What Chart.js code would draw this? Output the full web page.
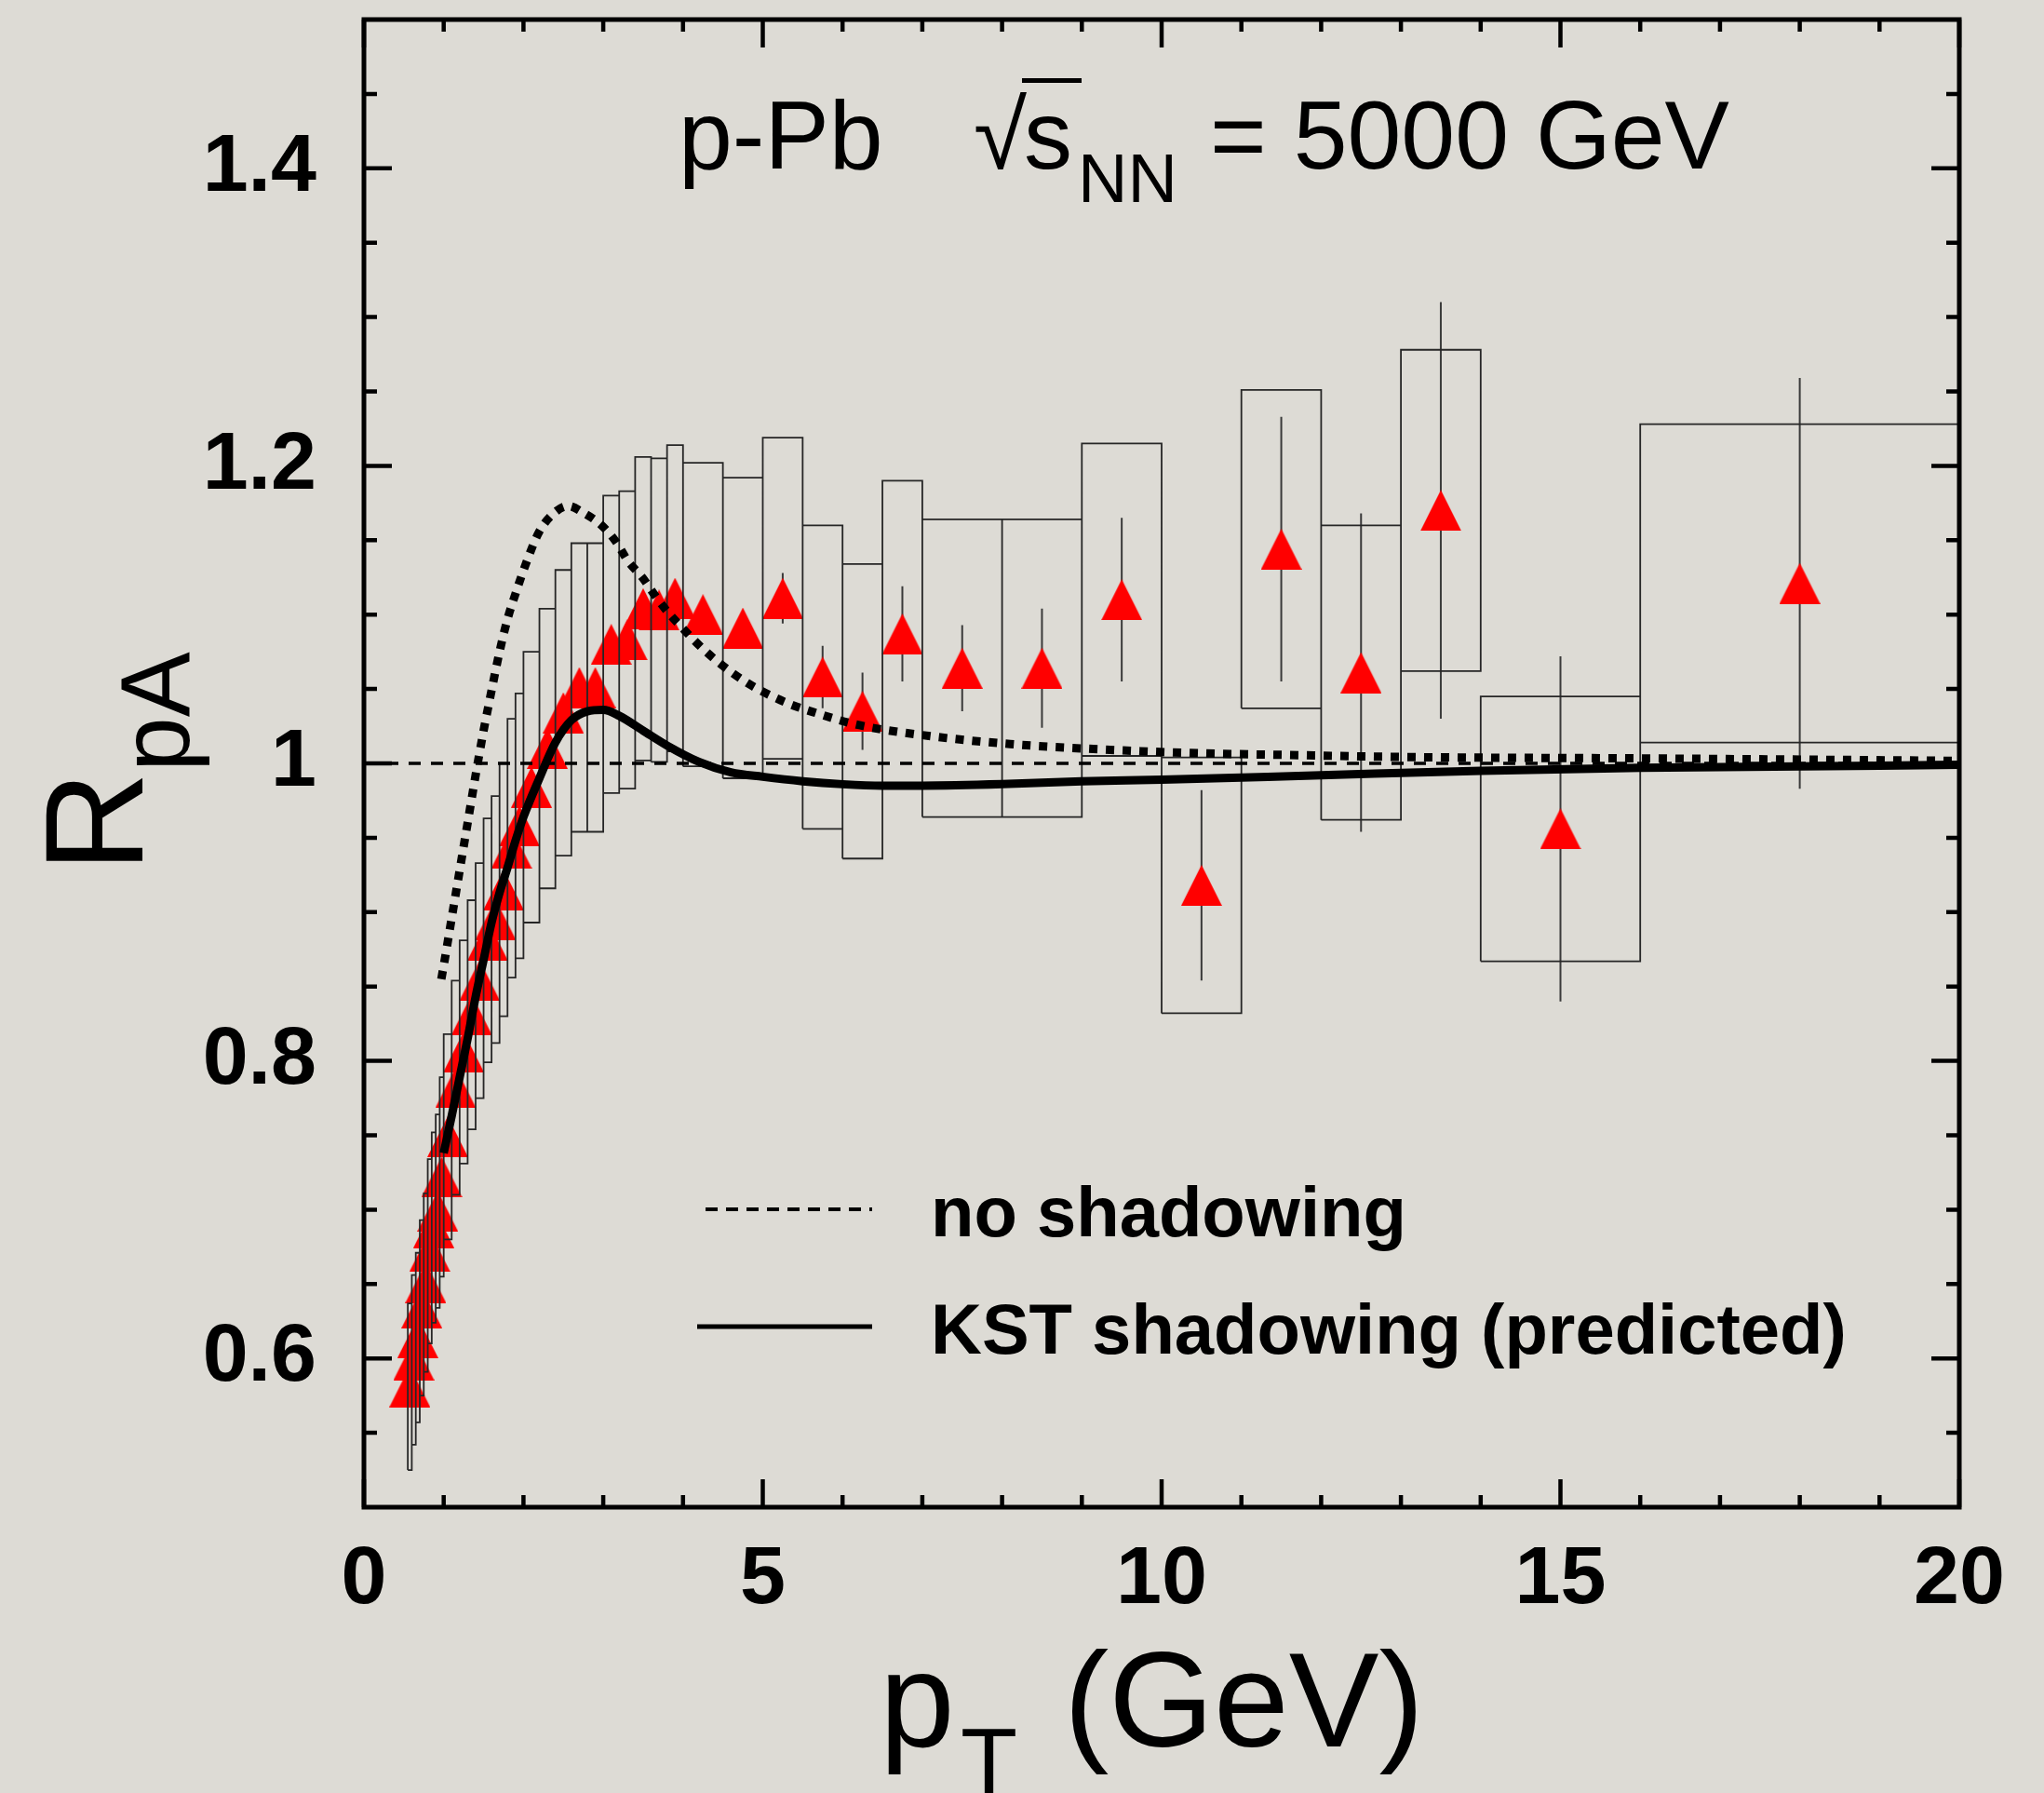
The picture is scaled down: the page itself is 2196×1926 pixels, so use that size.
<!DOCTYPE html>
<html>
<head>
<meta charset="utf-8">
<script src="https://cdn.jsdelivr.net/npm/chart.js@4.4.1/dist/chart.umd.min.js"></script>
<style>
  html, body { margin: 0; padding: 0; background: #dddbd5; }
  #wrap { width: 2196px; height: 1926px; }
</style>
</head>
<body>
<div id="wrap"><canvas id="rpa" width="2196" height="1926"></canvas></div>
<script>
// pT bins (GeV)
const binLo = [0.55, 0.6, 0.65, 0.7, 0.75, 0.8, 0.85, 0.9, 0.95,
  1.0, 1.1, 1.2, 1.3, 1.4, 1.5, 1.6, 1.7, 1.8, 1.9,
  2.0, 2.2, 2.4, 2.6, 2.8, 3.0, 3.2, 3.4, 3.6, 3.8,
  4.0, 4.5, 5.0, 5.5, 6.0, 6.5,
  7, 8, 9, 10, 11, 12, 13,
  14, 16]
const binHi = [0.6, 0.65, 0.7, 0.75, 0.8, 0.85, 0.9, 0.95, 1.0,
  1.1, 1.2, 1.3, 1.4, 1.5, 1.6, 1.7, 1.8, 1.9, 2.0,
  2.2, 2.4, 2.6, 2.8, 3.0, 3.2, 3.4, 3.6, 3.8, 4.0,
  4.5, 5.0, 5.5, 6.0, 6.5, 7.0,
  8, 9, 10, 11, 12, 13, 14,
  16, 20]
const pT = [0.575, 0.625, 0.675, 0.725, 0.775, 0.825, 0.875, 0.925, 0.975,
  1.05, 1.15, 1.25, 1.35, 1.45, 1.55, 1.65, 1.75, 1.85, 1.95,
  2.1, 2.3, 2.5, 2.7, 2.9, 3.1, 3.3, 3.5, 3.7, 3.9,
  4.25, 4.75, 5.25, 5.75, 6.25, 6.75,
  7.5, 8.5, 9.5, 10.5, 11.5, 12.5, 13.5,
  15, 18]
// measured R_pA with statistical and systematic errors
const rpa = [0.581, 0.599, 0.614, 0.634, 0.651, 0.672, 0.688, 0.699, 0.722,
  0.749, 0.782, 0.806, 0.831, 0.854, 0.881, 0.895, 0.915, 0.943, 0.958,
  0.984, 1.010, 1.034, 1.051, 1.051, 1.080, 1.083, 1.104, 1.103, 1.111,
  1.100, 1.091, 1.111, 1.058, 1.035, 1.087,
  1.064, 1.064, 1.110, 0.918, 1.144, 1.061, 1.170,
  0.956, 1.121]
const statErr = [0.003, 0.003, 0.003, 0.003, 0.003, 0.003, 0.003, 0.003, 0.003,
  0.003, 0.003, 0.003, 0.003, 0.003, 0.003, 0.003, 0.003, 0.003, 0.003,
  0.004, 0.004, 0.004, 0.004, 0.005, 0.005, 0.005, 0.006, 0.006, 0.007,
  0.008, 0.010, 0.017, 0.021, 0.026, 0.032,
  0.029, 0.040, 0.055, 0.064, 0.089, 0.107, 0.140,
  0.116, 0.138]
const sysErr = [0.056, 0.057, 0.057, 0.059, 0.060, 0.062, 0.064, 0.065, 0.067,
  0.069, 0.072, 0.075, 0.077, 0.079, 0.082, 0.083, 0.085, 0.087, 0.089,
  0.091, 0.094, 0.096, 0.097, 0.097, 0.100, 0.100, 0.102, 0.102, 0.103,
  0.102, 0.101, 0.108, 0.102, 0.099, 0.103,
  0.100, 0.100, 0.105, 0.086, 0.107, 0.099, 0.108,
  0.089, 0.107]

// theory curves
const noShadX = [0.97, 1.0, 1.1, 1.2, 1.3, 1.4, 1.5, 1.6, 1.7, 1.8, 1.9, 2.05, 2.2, 2.4, 2.56, 2.75,
  2.98, 3.16, 3.31, 3.49, 3.66, 3.82, 4.01, 4.21, 4.42, 4.64, 4.87, 5.12, 5.38, 5.63, 6.18,
  7.0, 8.1, 9.2, 10.35, 11.75, 12.85, 16.14, 20]
const noShadY = [0.855, 0.864, 0.896, 0.928, 0.960, 0.992, 1.022, 1.049, 1.075, 1.097, 1.114, 1.137, 1.156, 1.169, 1.173, 1.1685,
  1.160, 1.149, 1.136, 1.125, 1.112, 1.101, 1.090, 1.079, 1.069, 1.060, 1.052, 1.045, 1.039, 1.0345, 1.026,
  1.019, 1.013, 1.0095, 1.007, 1.0055, 1.0044, 1.0033, 1.0017]
const kstX = [1.0, 1.1, 1.2, 1.3, 1.4, 1.5, 1.6, 1.7, 1.8, 1.9, 2.0, 2.2, 2.4, 2.6, 2.8, 3.0, 3.2, 3.5,
  3.8, 4.2, 4.6, 5.0, 5.5, 6.0, 6.5, 7.0, 8.0, 9.0, 10, 12, 14, 16, 18, 20]
const kstY = [0.738, 0.763, 0.789, 0.815, 0.843, 0.868, 0.893, 0.913, 0.930, 0.948, 0.964, 0.990, 1.014, 1.029, 1.035, 1.036, 1.032, 1.022,
  1.012, 1.001, 0.994, 0.991, 0.988, 0.986, 0.985, 0.985, 0.986, 0.988, 0.989, 0.992, 0.995, 0.997, 0.998, 0.999]

// axes
const xMajor = [0, 5, 10, 15, 20]
const xTickLabels = ['0', '5', '10', '15', '20']
const yMajor = [0.6, 0.8, 1.0, 1.2, 1.4]
const yTickLabels = ['0.6', '0.8', '1', '1.2', '1.4']

const FONT = '"Liberation Sans", Arial, Helvetica, sans-serif'

// boxes for systematic errors, drawn as closed outlines
const boxPts = []
binLo.forEach((lo, i) => {
  const hi = binHi[i]
  const lo_y = rpa[i] - sysErr[i]
  const hi_y = rpa[i] + sysErr[i]
  boxPts.push({ x: lo, y: lo_y }, { x: hi, y: lo_y }, { x: hi, y: hi_y }, { x: lo, y: hi_y }, { x: lo, y: lo_y }, { x: lo, y: null })
})

// statistical error bars
const statPts = []
pT.forEach((x, i) => {
  statPts.push({ x: x, y: rpa[i] - statErr[i] }, { x: x, y: rpa[i] + statErr[i] }, { x: x, y: null })
})

function triangleMarker(w, h, color) {
  const c = document.createElement('canvas')
  c.width = w
  c.height = h
  const g = c.getContext('2d')
  g.fillStyle = color
  g.beginPath()
  g.moveTo(w / 2, 0)
  g.lineTo(w, h)
  g.lineTo(0, h)
  g.closePath()
  g.fill()
  return c
}

const paperPlugin = {
  id: 'paper',
  beforeDraw(chart) {
    const g = chart.ctx
    g.save()
    g.fillStyle = '#dddbd5'
    g.fillRect(0, 0, chart.width, chart.height)
    g.restore()
  },
}

// frame with inward ticks on all four sides
const framePlugin = {
  id: 'frame',
  afterDatasetsDraw(chart) {
    const g = chart.ctx
    const a = chart.chartArea
    const xs = chart.scales.x
    const ys = chart.scales.y
    g.save()
    g.strokeStyle = '#000'
    g.lineWidth = 5
    g.beginPath()
    g.rect(a.left, a.top, a.right - a.left, a.bottom - a.top)
    g.stroke()
    g.lineWidth = 4.5
    g.beginPath()
    for (let v = 0; v <= 20; v++) {
      const px = xs.getPixelForValue(v)
      const len = v % 5 === 0 ? 30 : 13
      g.moveTo(px, a.bottom)
      g.lineTo(px, a.bottom - len)
      g.moveTo(px, a.top)
      g.lineTo(px, a.top + len)
    }
    for (let k = 11; k <= 29; k++) {
      const v = k * 0.05
      const py = ys.getPixelForValue(v)
      const major = k % 4 === 0
      const len = major ? 30 : 14
      g.moveTo(a.left, py)
      g.lineTo(a.left + len, py)
      g.moveTo(a.right, py)
      g.lineTo(a.right - len, py)
    }
    g.stroke()
    g.restore()
  },
}

const textPlugin = {
  id: 'texts',
  afterDraw(chart) {
    const g = chart.ctx
    g.save()
    g.fillStyle = '#000'
    g.strokeStyle = '#000'
    g.textAlign = 'left'
    g.textBaseline = 'alphabetic'

    // header
    g.font = '104px ' + FONT
    g.fillText('p-Pb', 729, 181)
    g.fillText('\u221A', 1046, 181)
    g.fillText('s', 1100, 181)
    g.fillRect(1098, 84, 64, 5)
    g.font = '74px ' + FONT
    g.fillText('NN', 1158, 217)
    g.font = '104px ' + FONT
    g.fillText('= 5000 GeV', 1300, 181)

    // legend
    g.lineWidth = 4
    g.setLineDash([13, 9])
    g.beginPath()
    g.moveTo(758, 1299)
    g.lineTo(937, 1299)
    g.stroke()
    g.setLineDash([])
    g.lineWidth = 5
    g.beginPath()
    g.moveTo(749, 1425)
    g.lineTo(937, 1425)
    g.stroke()
    g.font = 'bold 76px ' + FONT
    g.fillText('no shadowing', 1000, 1328)
    g.fillText('KST shadowing (predicted)', 1000, 1454)

    // x title
    g.font = '145px ' + FONT
    g.fillText('p', 945, 1876)
    g.font = '100px ' + FONT
    g.fillText('T', 1032, 1926)
    g.font = '145px ' + FONT
    g.fillText('(GeV)', 1143, 1876)

    // y title
    g.translate(153, 937)
    g.rotate(-Math.PI / 2)
    g.font = '150px ' + FONT
    g.fillText('R', 0, 0)
    const w = g.measureText('R').width
    g.font = '105px ' + FONT
    g.fillText('pA', w, 50)
    g.restore()
  },
}

const ctx = document.getElementById('rpa').getContext('2d')
const chart = new Chart(ctx, {
  type: 'scatter',
  data: {
    datasets: [
      {
        label: 'KST shadowing (predicted)',
        data: kstX.map((x, i) => ({ x: x, y: kstY[i] })),
        showLine: true,
        borderColor: '#000',
        borderWidth: 9,
        pointRadius: 0,
        cubicInterpolationMode: 'monotone',
        order: 0,
      },
      {
        label: 'no shadowing',
        data: noShadX.map((x, i) => ({ x: x, y: noShadY[i] })),
        showLine: true,
        borderColor: '#000',
        borderWidth: 9,
        borderDash: [9, 9],
        borderCapStyle: 'butt',
        pointRadius: 0,
        cubicInterpolationMode: 'monotone',
        order: 1,
      },
      {
        label: 'unity',
        data: [{ x: 0, y: 1 }, { x: 20, y: 1 }],
        showLine: true,
        borderColor: '#000',
        borderWidth: 3.5,
        borderDash: [13, 11],
        pointRadius: 0,
        order: 2,
      },
      {
        label: 'syst',
        data: boxPts,
        showLine: true,
        spanGaps: false,
        borderColor: '#262626',
        borderWidth: 1.8,
        borderJoinStyle: 'miter',
        pointRadius: 0,
        tension: 0,
        order: 3,
      },
      {
        label: 'data',
        data: pT.map((x, i) => ({ x: x, y: rpa[i] })),
        pointStyle: triangleMarker(44, 44, '#ff0000'),
        pointRadius: 20,
        showLine: false,
        order: 4,
      },
      {
        label: 'stat',
        data: statPts,
        showLine: true,
        spanGaps: false,
        borderColor: '#3a3a3a',
        borderWidth: 2,
        pointRadius: 0,
        order: 5,
      },
    ],
  },
  options: {
    responsive: false,
    animation: false,
    devicePixelRatio: 1,
    layout: { padding: { top: 15, right: 91, left: 0, bottom: 0 } },
    plugins: {
      legend: { display: false },
      tooltip: { enabled: false },
    },
    scales: {
      x: {
        type: 'linear',
        min: 0,
        max: 20,
        grid: { display: false, drawTicks: false },
        border: { display: false },
        ticks: {
          color: '#000',
          font: { family: FONT, size: 88, weight: 'bold' },
          padding: 26,
          maxRotation: 0,
          autoSkip: false,
          callback: (v, i) => xTickLabels[i],
        },
        afterBuildTicks: s => { s.ticks = xMajor.map(v => ({ value: v })) },
        afterFit: s => {
          s.height = 307
          s.paddingLeft = 0
          s.paddingRight = 0
        },
      },
      y: {
        type: 'linear',
        min: 0.5,
        max: 1.5,
        grid: { display: false, drawTicks: false },
        border: { display: false },
        ticks: {
          color: '#000',
          font: { family: FONT, size: 88, weight: 'bold' },
          padding: 51,
          autoSkip: false,
          callback: (v, i) => yTickLabels[i],
        },
        afterBuildTicks: s => { s.ticks = yMajor.map(v => ({ value: v })) },
        afterFit: s => {
          s.width = 391
          s.paddingTop = 0
          s.paddingBottom = 0
        },
      },
    },
  },
  plugins: [paperPlugin, framePlugin, textPlugin],
})
</script>
</body>
</html>
